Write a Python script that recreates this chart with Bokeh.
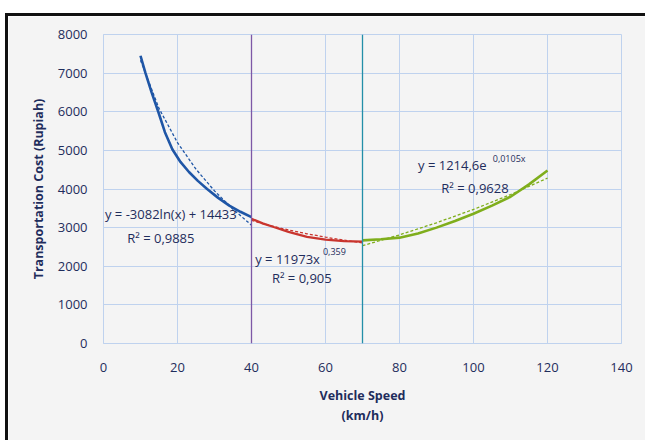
from bokeh.plotting import figure
from bokeh.models import Range1d, FixedTicker, Span, Label
from bokeh.embed import file_html
from bokeh.resources import INLINE

# ---- data ----
x_ticks = [0, 20, 40, 60, 80, 100, 120, 140]
y_ticks = [0, 1000, 2000, 3000, 4000, 5000, 6000, 7000, 8000]

blue_x = [10, 11.35, 13, 14.8, 16.6, 18.6, 20.8, 23.1, 25.5, 28, 31, 34, 37, 40]
blue_y = [7450, 7000, 6500, 6000, 5470, 5030, 4700, 4440, 4210, 4000, 3770, 3570, 3410, 3270]
blue_trend_x = [10, 15, 20, 25, 30, 35, 40]
blue_trend_y = [7336, 6087, 5200, 4513, 3951, 3476, 3064]

red_x = [40, 43, 46, 50, 55, 60, 65, 70]
red_y = [3230, 3110, 3015, 2890, 2760, 2690, 2650, 2640]
red_trend_x = [40, 45, 50, 55, 60, 65, 70]
red_trend_y = [3186, 3053, 2939, 2841, 2754, 2675, 2605]

green_x = [70, 75, 80, 85, 90, 95, 100, 105, 110, 115, 120]
green_y = [2670, 2700, 2740, 2850, 3000, 3170, 3360, 3570, 3800, 4120, 4480]
green_trend_x = [70, 80, 90, 100, 110, 120]
green_trend_y = [2533, 2813, 3125, 3471, 3855, 4282]

split_speeds = [40, 70]

BG = "#f4f4f4"
GRID = "#bfd2ee"
TXT = "#1f2d5c"
FONT = "Open Sans"

p = figure(width=640, height=427, x_range=Range1d(0, 140), y_range=Range1d(0, 8000),
           output_backend="svg", toolbar_location=None,
           min_border_left=95, min_border_right=27, min_border_top=18, min_border_bottom=100,
           background_fill_color=BG, border_fill_color=BG)
p.styles = {"margin-left": "5px", "margin-top": "13px",
            "border-left": "3px solid #111", "border-top": "3px solid #111"}
p.outline_line_color = GRID

xa = p.xaxis[0]
ya = p.yaxis[0]
xa.ticker = FixedTicker(ticks=x_ticks)
ya.ticker = FixedTicker(ticks=y_ticks)
for ax in (xa, ya):
    ax.axis_line_color = GRID
    ax.major_tick_line_color = None
    ax.minor_tick_line_color = None
    ax.major_tick_in = 0
    ax.major_tick_out = 0
    ax.major_label_text_font = FONT
    ax.major_label_text_font_size = "13px"
    ax.major_label_text_color = TXT
    ax.axis_label_text_font = FONT
    ax.axis_label_text_font_style = "bold"
    ax.axis_label_text_font_size = "12.5px"
    ax.axis_label_text_color = TXT
xa.major_label_standoff = 19
ya.major_label_standoff = 16
xa.axis_label = "Vehicle Speed\n(km/h)"
ya.axis_label = "Transportation Cost (Rupiah)"
xa.axis_label_standoff = 12
ya.axis_label_standoff = 8

p.grid.grid_line_color = GRID
p.grid.grid_line_width = 1

p.add_layout(Span(location=split_speeds[0], dimension="height", line_color="#7d58a6", line_width=1.3))
p.add_layout(Span(location=split_speeds[1], dimension="height", line_color="#238fa8", line_width=1.3))

p.line(blue_x, blue_y, line_color="#1f56a6", line_width=2.6)
p.line(blue_trend_x, blue_trend_y, line_color="#1f56a6", line_width=1.3, line_dash="3 2")
p.line(red_x, red_y, line_color="#c9352e", line_width=2.2)
p.line(red_trend_x, red_trend_y, line_color="#c9352e", line_width=1.3, line_dash="3 2")
p.line(green_x, green_y, line_color="#7fae1c", line_width=2.6)
p.line(green_trend_x, green_trend_y, line_color="#7fae1c", line_width=1.3, line_dash="3 2")

def lab(x, y, t, size="13px", align="left"):
    p.add_layout(Label(x=x, y=y, text=t, text_font=FONT, text_font_size=size,
                       text_color=TXT, text_align=align, text_baseline="middle",
                       level="overlay"))

lab(0.4, 3350, "y = -3082ln(x) + 14433")
lab(15.5, 2740, "R² = 0,9885", align="center")
lab(41.0, 2200, "y = 11973x")
lab(59.3, 2380, "0,359", size="9px")
lab(53.6, 1690, "R² = 0,905", align="center")
lab(85.0, 4620, "y = 1214,6e")
lab(105.2, 4790, "0,0105x", size="9px")
lab(100.4, 4020, "R² = 0,9628", align="center")

open("out.html", "w").write(file_html(p, INLINE))
